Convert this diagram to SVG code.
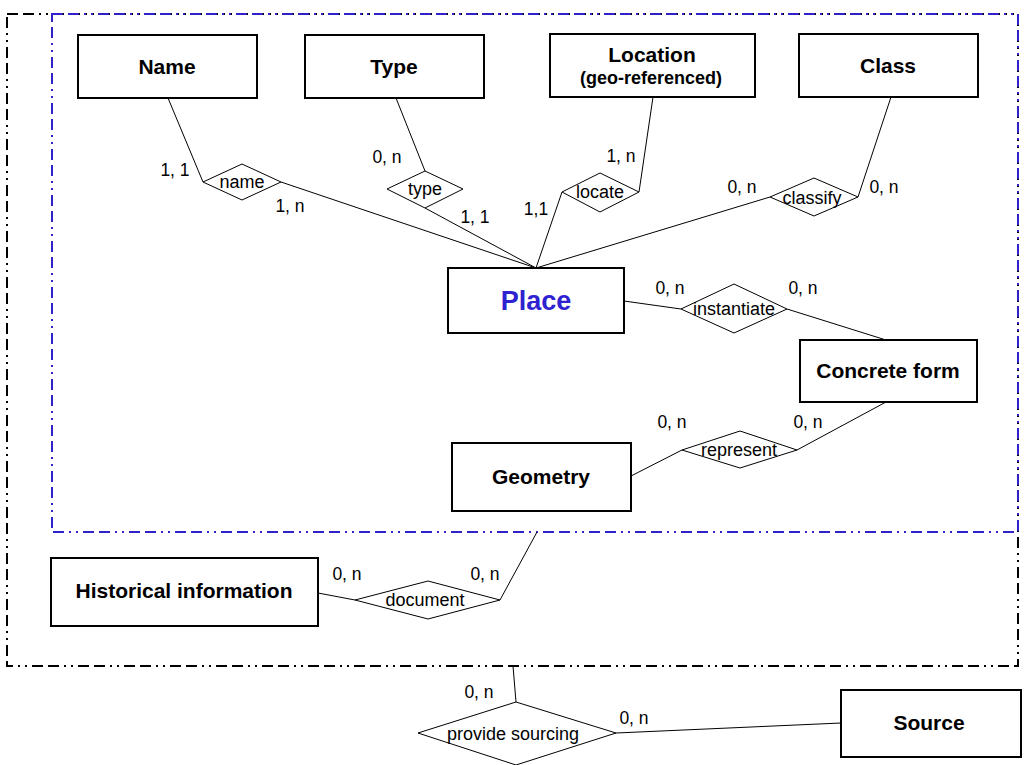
<svg xmlns="http://www.w3.org/2000/svg" width="1026" height="765" viewBox="0 0 1026 765">
<style>
.ent{fill:#fff;stroke:#000;stroke-width:2}
.rel{fill:#fff;stroke:#000;stroke-width:1}
.ln{fill:none;stroke:#000;stroke-width:1}
.et{font-family:"Liberation Sans",Arial,sans-serif;font-weight:bold;font-size:21px;text-anchor:middle;fill:#000}
.rt{font-family:"Liberation Sans",Arial,sans-serif;font-size:18px;text-anchor:middle;fill:#000}
.ct{font-family:"Liberation Sans",Arial,sans-serif;font-size:17.5px;text-anchor:middle;fill:#000}
.outer{fill:none;stroke:#000;stroke-width:2;stroke-dasharray:11 5 11 5 2 5 2 5}
.inner{fill:none;stroke:#2f22c8;stroke-width:2;stroke-dasharray:11 5 11 5 2 5 2 5}
</style>
<rect width="1026" height="765" fill="#fff"/>
<g id="boundaries">
<rect class="outer" x="7" y="14" width="1011" height="652"/>
<rect class="inner" x="52" y="14" width="966" height="518"/>
</g>
<g id="connectors">
<polyline class="ln" points="168,98 203,182"/>
<polyline class="ln" points="281,182 536,268"/>
<polyline class="ln" points="396,98 425,171"/>
<polyline class="ln" points="425,208 536,268"/>
<polyline class="ln" points="653,97 639,192"/>
<polyline class="ln" points="562,192 536,268"/>
<polyline class="ln" points="891,97 858,197"/>
<polyline class="ln" points="770,197 536,268"/>
<polyline class="ln" points="624,301 681,309"/>
<polyline class="ln" points="787,309 886,340"/>
<polyline class="ln" points="631,476 682,450"/>
<polyline class="ln" points="797,450 886,402"/>
<polyline class="ln" points="318,593 355,600"/>
<polyline class="ln" points="500,600 537,532"/>
<polyline class="ln" points="513,666 516,702"/>
<polyline class="ln" points="616,733 841,723"/>
<g class="ct">
<text x="175" y="176">1, 1</text>
<text x="290" y="212">1, n</text>
<text x="387" y="163">0, n</text>
<text x="475" y="223">1, 1</text>
<text x="621" y="162">1, n</text>
<text x="536" y="215">1,1</text>
<text x="742" y="193">0, n</text>
<text x="884" y="193">0, n</text>
<text x="670" y="294">0, n</text>
<text x="803" y="294">0, n</text>
<text x="672" y="428">0, n</text>
<text x="808" y="428">0, n</text>
<text x="347" y="580">0, n</text>
<text x="485" y="580">0, n</text>
<text x="479" y="698">0, n</text>
<text x="634" y="724">0, n</text>
</g>
</g>
<g id="name-entity"><rect class="ent" x="78" y="35" width="179" height="63"/><text class="et" x="167" y="74">Name</text></g>
<g id="type-entity"><rect class="ent" x="305" y="35" width="179" height="63"/><text class="et" x="394" y="74">Type</text></g>
<g id="location-entity"><rect class="ent" x="550" y="34" width="205" height="63"/><text class="et" x="652" y="62">Location</text><text class="et" x="651" y="84" style="font-size:18px">(geo-referenced)</text></g>
<g id="class-entity"><rect class="ent" x="799" y="34" width="179" height="63"/><text class="et" x="888" y="73">Class</text></g>
<g id="place-entity"><rect class="ent" x="448" y="268" width="176" height="65"/><text class="et" x="536" y="310" style="font-size:27px;fill:#2f22d0">Place</text></g>
<g id="concrete-form-entity"><rect class="ent" x="800" y="340" width="177" height="62"/><text class="et" x="888" y="378">Concrete form</text></g>
<g id="geometry-entity"><rect class="ent" x="452" y="443" width="179" height="68"/><text class="et" x="541" y="484">Geometry</text></g>
<g id="historical-entity"><rect class="ent" x="51" y="558" width="267" height="68"/><text class="et" x="184" y="598">Historical information</text></g>
<g id="source-entity"><rect class="ent" x="841" y="690" width="180" height="67"/><text class="et" x="929" y="730">Source</text></g>
<g id="name-rel"><polygon class="rel" points="203,182 242,164 281,182 242,200"/><text class="rt" x="242" y="188">name</text></g>
<g id="type-rel"><polygon class="rel" points="387,189 425,171 463,189 425,208"/><text class="rt" x="425" y="195">type</text></g>
<g id="locate-rel"><polygon class="rel" points="562,192 600,173 639,192 600,212"/><text class="rt" x="600" y="198">locate</text></g>
<g id="classify-rel"><polygon class="rel" points="770,197 814,178 858,197 814,216"/><text class="rt" x="812" y="204">classify</text></g>
<g id="instantiate-rel"><polygon class="rel" points="681,309 734,284 787,309 734,333"/><text class="rt" x="734" y="315">instantiate</text></g>
<g id="represent-rel"><polygon class="rel" points="682,450 740,431 797,450 740,468"/><text class="rt" x="739" y="456">represent</text></g>
<g id="document-rel"><polygon class="rel" points="355,600 428,581 500,600 428,619"/><text class="rt" x="425" y="606">document</text></g>
<g id="provide-sourcing-rel"><polygon class="rel" points="418,733 516,702 616,733 516,765"/><text class="rt" x="513" y="740">provide sourcing</text></g>
</svg>
